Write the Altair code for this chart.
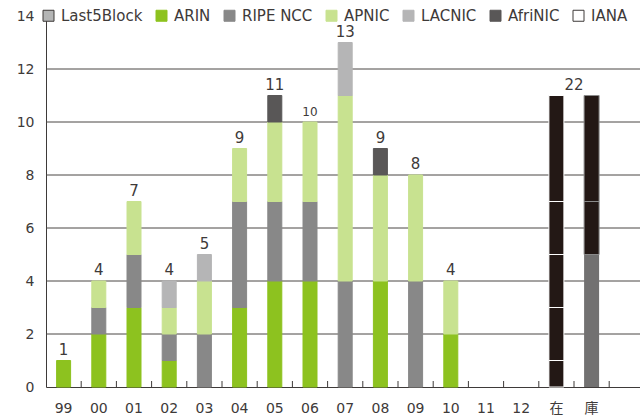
import altair as alt
import pandas as pd

# ---- data ----
years = ["99", "00", "01", "02", "03", "04", "05", "06", "07", "08", "09", "10", "11", "12"]
arin    = [1, 2, 3, 1, 0, 3, 4, 4, 0, 4, 0, 2, 0, 0]
ripe    = [0, 1, 2, 1, 2, 4, 3, 3, 4, 0, 4, 0, 0, 0]
apnic   = [0, 1, 2, 1, 2, 2, 3, 3, 7, 4, 4, 2, 0, 0]
lacnic  = [0, 0, 0, 1, 1, 0, 0, 0, 2, 0, 0, 0, 0, 0]
afrinic = [0, 0, 0, 0, 0, 0, 1, 0, 0, 1, 0, 0, 0, 0]

stock_cats   = ["在", "在", "在", "在", "在", "庫", "庫", "庫"]
stock_values = [1, 2, 2, 2, 4, 5, 2, 4]
stock_fill   = ["#231815"] * 5 + ["#727171", "#231815", "#231815"]
stock_edge   = ["white"] * 5 + ["none", "#8a8a8a", "#8a8a8a"]
stock_total_label = "22"

grid_vals = [2, 4, 6, 8, 10, 12]

rir_names  = ["Last5Block", "ARIN", "RIPE NCC", "APNIC", "LACNIC", "AfriNIC", "IANA"]
rir_fill   = ["#b4b5b5", "#8dc21f", "#888888", "#c8e290", "#b5b5b6", "#595757", "#ffffff"]
rir_stroke = ["#3e3a39", "#8dc21f", "#888888", "#c8e290", "#b5b5b6", "#595757", "#3e3a39"]

cats = years + ["在", "庫"]

# ---- tables ----
series = {"ARIN": arin, "RIPE NCC": ripe, "APNIC": apnic, "LACNIC": lacnic, "AfriNIC": afrinic}
rows = []
for order, (name, vals) in enumerate(series.items()):
    for y, v in zip(years, vals):
        if v > 0:
            rows.append({"cat": y, "rir": name, "value": v, "ord": order})
df = pd.DataFrame(rows)

df_tot = pd.DataFrame({
    "cat": years,
    "total": [a + b + c + d + e for a, b, c, d, e in zip(arin, ripe, apnic, lacnic, afrinic)],
})
df_tot = df_tot[df_tot.total > 0]

df_stock = pd.DataFrame({"cat": stock_cats, "value": stock_values, "fill": stock_fill, "edge": stock_edge})
df_stock["y1"] = df_stock.groupby("cat")["value"].cumsum()
df_stock["y0"] = df_stock["y1"] - df_stock["value"]
df_stock_tot = pd.DataFrame({"cat": ["在"], "total": [sum(stock_values[:5])], "label": [stock_total_label]})
df_ticks = pd.DataFrame({"cat": cats})
df_grid = pd.DataFrame({"v": grid_vals})

FONT = "DejaVu Sans, Noto Sans CJK JP"
TXT = "#3e3a39"
W, H = 594, 371

xscale = alt.Scale(domain=cats, paddingInner=0, paddingOuter=0.4375, align=0)
yscale = alt.Scale(domain=[0, 14], nice=False)

xaxis = alt.Axis(labelFont=FONT, labelFontSize=14, labelColor=TXT, labelAngle=0,
                 tickSize=0, labelPadding=14, domainColor=TXT, domainWidth=1, grid=False)
yaxis = alt.Axis(values=[0, 2, 4, 6, 8, 10, 12, 14], grid=False, tickSize=0,
                 labelPadding=12, labelFont=FONT, labelFontSize=14, labelColor=TXT,
                 domainColor=TXT, domainWidth=1)


def X(**kw):
    return alt.X("cat:N", scale=xscale, sort=cats, axis=xaxis, title=None, **kw)


def Y(field, **kw):
    return alt.Y(field, scale=yscale, axis=yaxis, title=None, **kw)


grid = alt.Chart(df_grid).mark_rule(color="#4a4645", strokeWidth=1).encode(y=Y("v:Q"))

ticks = alt.Chart(df_ticks).mark_rule(color=TXT, strokeWidth=1).encode(
    x=X(bandPosition=1),
    y=alt.value(H),
    y2=alt.value(H - 6),
)

legend = alt.Legend(title=None, orient="none", legendX=-5, legendY=-8,
                    direction="horizontal", columns=7, symbolType="square",
                    symbolSize=121, symbolStrokeWidth=1, labelFont=FONT,
                    labelFontSize=15, labelColor=TXT, labelOffset=5, columnPadding=11)

bars = alt.Chart(df).mark_bar(width=14, strokeWidth=1).encode(
    x=X(),
    y=Y("value:Q", stack="zero"),
    color=alt.Color("rir:N", scale=alt.Scale(domain=rir_names, range=rir_fill), legend=legend),
    stroke=alt.Stroke("rir:N", scale=alt.Scale(domain=rir_names, range=rir_stroke), legend=legend),
    order=alt.Order("ord:Q"),
)

stock_layers = []
for edge in ["none", "#8a8a8a", "white"]:
    base = alt.Chart(df_stock).transform_filter(alt.datum.edge == edge)
    mk = base.mark_bar(width=15) if edge == "none" else base.mark_bar(width=15, stroke=edge, strokeWidth=1)
    stock_layers.append(mk.encode(
        x=X(),
        y=Y("y0:Q"),
        y2="y1:Q",
        fill=alt.Fill("fill:N", scale=None),
    ))

labels = alt.Chart(df_tot).mark_text(font=FONT, color=TXT, baseline="alphabetic", dy=-6).encode(
    x=X(),
    y=Y("total:Q"),
    text="total:Q",
    size=alt.condition("datum.cat == '06'", alt.value(12), alt.value(15)),
)

stock_label = alt.Chart(df_stock_tot).mark_text(font=FONT, fontSize=15, color=TXT, baseline="alphabetic",
                                                dy=-6, dx=17.6).encode(
    x=X(),
    y=Y("total:Q"),
    text="label:N",
)

chart = alt.layer(grid, ticks, bars, *stock_layers, labels, stock_label).properties(
    width=W, height=H,
    autosize=alt.AutoSizeParams(type="none"),
    padding={"left": 46, "top": 16, "right": 0, "bottom": 31},
).configure_view(stroke=None)

chart.save("out.html", embed_options={"renderer": "svg", "actions": False})
